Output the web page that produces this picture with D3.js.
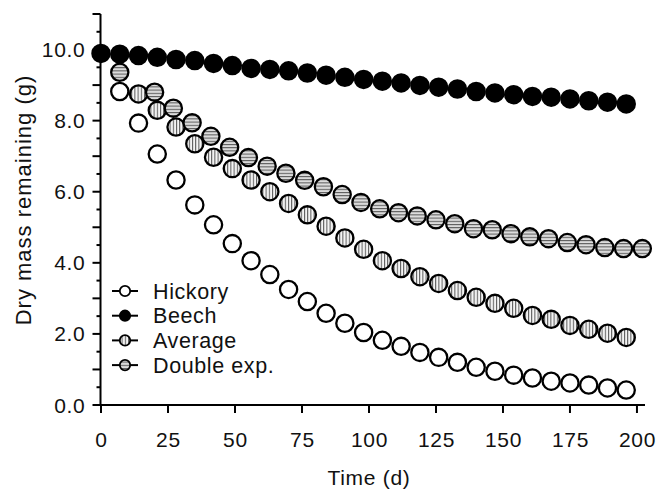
<!DOCTYPE html>
<html><head><meta charset="utf-8">
<script src="https://cdn.jsdelivr.net/npm/d3@7"></script>
<style>body{margin:0;background:#fff} text{font-family:"Liberation Sans",Arial,Helvetica,sans-serif;fill:#111}</style>
</head><body><svg id="c" width="671" height="495"></svg>
<script>
const hickoryDays = [7,14,21,28,35,42,49,56,63,70,77,84,91,98,105,112,119,126,133,140,147,154,161,168,175,182,189,196];
const hickoryMass = [8.82,7.93,7.06,6.33,5.63,5.07,4.54,4.06,3.67,3.25,2.91,2.58,2.30,2.04,1.82,1.65,1.48,1.34,1.20,1.06,0.95,0.84,0.76,0.67,0.62,0.56,0.48,0.42];
const beechDays = [0,7,14,21,28,35,42,49,56,63,70,77,84,91,98,105,112,119,126,133,140,147,154,161,168,175,182,189,196];
const beechMass = [9.89,9.87,9.83,9.78,9.72,9.69,9.61,9.55,9.47,9.44,9.40,9.34,9.28,9.22,9.16,9.11,9.06,8.99,8.94,8.89,8.82,8.78,8.73,8.68,8.66,8.61,8.56,8.52,8.47];
const avgDays = [14,21,28,35,42,49,56,63,70,77,84,91,98,105,112,119,126,133,140,147,154,161,168,175,182,189,196];
const avgMass = [8.75,8.29,7.82,7.35,6.97,6.65,6.33,6.00,5.67,5.35,5.03,4.70,4.38,4.06,3.84,3.61,3.42,3.22,3.03,2.86,2.72,2.52,2.41,2.24,2.13,2.02,1.90];
const dexpDays = [7,20,27,34,41,48,55,62,69,76,83,90,97,104,111,118,125,132,139,146,153,160,167,174,181,188,195,202];
const dexpMass = [9.36,8.80,8.35,7.94,7.56,7.25,6.96,6.72,6.52,6.32,6.14,5.92,5.70,5.52,5.41,5.32,5.21,5.10,4.96,4.93,4.82,4.73,4.68,4.57,4.51,4.43,4.40,4.40];
const seriesNames = ["Hickory","Beech","Average","Double exp."];
const xTicks = [0,25,50,75,100,125,150,175,200];
const yLabelTicks = [0,2,4,6,8,10];
const xTitle = "Time (d)";
const yTitle = "Dry mass remaining (g)";

const svg = d3.select("#c");
const x = d3.scaleLinear().domain([0,203]).range([101,645]);
const y = d3.scaleLinear().domain([0,11]).range([405,14]);

const defs = svg.append("defs");
function stripes(id, horiz, bg){
  const p = defs.append("pattern").attr("id",id).attr("patternUnits","userSpaceOnUse")
    .attr("width",3.2).attr("height",3.2);
  p.append("rect").attr("width",3.2).attr("height",3.2).attr("fill",bg);
  if(horiz) p.append("rect").attr("x",0).attr("y",0).attr("width",3.2).attr("height",1.0).attr("fill","#555");
  else p.append("rect").attr("x",0).attr("y",0).attr("width",1.0).attr("height",3.2).attr("fill","#555");
}
stripes("vstripe", false, "#f4f4f4");
stripes("hstripe", true, "#dcdcdc");

const styles = {
  "Hickory": {fill:"#fff"},
  "Beech": {fill:"#000"},
  "Average": {fill:"url(#vstripe)"},
  "Double exp.": {fill:"url(#hstripe)"}
};

// axes
const yAxisG = svg.append("g").attr("transform","translate(100.5,0)");
yAxisG.append("line").attr("x1",0).attr("x2",0).attr("y1",y(11)).attr("y2",y(0)+1).attr("stroke","#000").attr("stroke-width",2);
const yt = d3.range(0, 11.01, 0.5);
yAxisG.selectAll("line.t").data(yt).join("line").attr("class","t")
  .attr("x1", d => Number.isInteger(d) ? -8 : -4).attr("x2",0)
  .attr("y1", d => y(d)).attr("y2", d => y(d)).attr("stroke","#000").attr("stroke-width",2);
yAxisG.selectAll("text").data(yLabelTicks).join("text")
  .attr("x",-15).attr("y", d => y(d)).attr("dy","0.36em").attr("text-anchor","end")
  .attr("font-size",21).attr("letter-spacing",0.7).text(d3.format(".1f"));

const xAxisG = svg.append("g").attr("transform","translate(0,405)");
xAxisG.append("line").attr("x1",x(0)-3).attr("x2",x(203)).attr("y1",0).attr("y2",0).attr("stroke","#000").attr("stroke-width",2);
xAxisG.selectAll("line.t").data(xTicks).join("line").attr("class","t")
  .attr("x1", d => x(d)).attr("x2", d => x(d)).attr("y1",0).attr("y2",8).attr("stroke","#000").attr("stroke-width",2);
xAxisG.selectAll("text").data(xTicks).join("text")
  .attr("x", d => x(d)+0.5).attr("y",42).attr("text-anchor","middle").attr("font-size",21).attr("letter-spacing",0.7).text(d => d);

svg.append("text").attr("x",369).attr("y",485).attr("text-anchor","middle").attr("font-size",21).attr("letter-spacing",0.7).text(xTitle);
svg.append("text").attr("transform","translate(31,200) rotate(-90)").attr("text-anchor","middle").attr("font-size",22).attr("letter-spacing",1).text(yTitle);

// data
const series = [
  {name:"Hickory", days:hickoryDays, mass:hickoryMass},
  {name:"Average", days:avgDays, mass:avgMass},
  {name:"Double exp.", days:dexpDays, mass:dexpMass},
  {name:"Beech", days:beechDays, mass:beechMass}
];
series.forEach(s => {
  svg.append("g").selectAll("circle").data(s.days.map((d,i)=>[d,s.mass[i]])).join("circle")
    .attr("cx", d => x(d[0])).attr("cy", d => y(d[1])).attr("r", 8.6)
    .attr("fill", styles[s.name].fill).attr("stroke","#000").attr("stroke-width",2.3);
});

// legend
const leg = svg.append("g");
seriesNames.forEach((n,i) => {
  const cy = 291 + i*24.7;
  leg.append("line").attr("x1",112).attr("x2",138).attr("y1",cy).attr("y2",cy).attr("stroke","#000").attr("stroke-width",2);
  leg.append("circle").attr("cx",125).attr("cy",cy).attr("r",5.2).attr("fill",styles[n].fill).attr("stroke","#000").attr("stroke-width",1.8);
  leg.append("text").attr("x",153).attr("y",cy).attr("dy","0.36em").attr("font-size",21.5).attr("letter-spacing",0.6).text(n);
});
</script>
</body></html>
